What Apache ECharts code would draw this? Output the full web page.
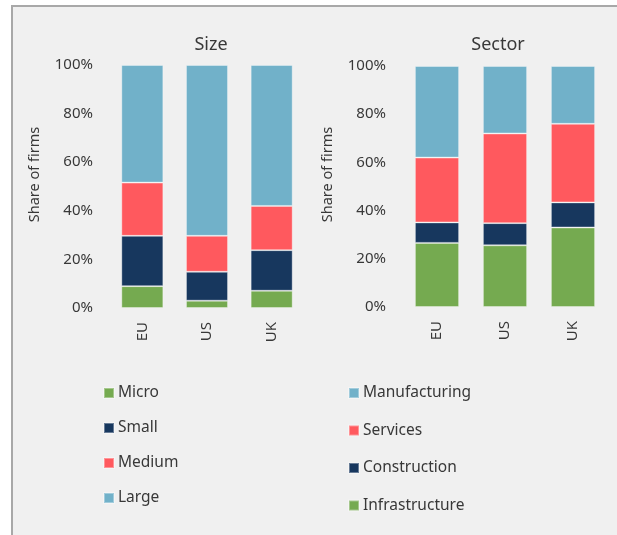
<!DOCTYPE html>
<html>
<head>
<meta charset="utf-8">
<style>
  html, body { margin: 0; padding: 0; background: #ffffff; }
  #chart { width: 617px; height: 535px; }
</style>
<script src="https://cdn.jsdelivr.net/npm/echarts@6/dist/echarts.min.js"></script>
</head>
<body>
<div id="chart"></div>
<script>
// Regions shown on both panels
const regions = ['EU', 'US', 'UK'];

// Share of firms by firm size (%)
const micro  = [9.0, 3.0, 7.1];
const small  = [20.7, 11.9, 16.7];
const medium = [21.9, 14.8, 18.2];
const large  = [48.4, 70.3, 58.0];

// Share of firms by sector (%)
const infrastructure = [26.6, 25.6, 33.0];
const construction   = [8.5, 9.2, 10.4];
const services       = [26.9, 37.2, 32.6];
const manufacturing  = [38.0, 28.0, 24.0];

const sizeLegend   = ['Micro', 'Small', 'Medium', 'Large'];
const sectorLegend = ['Manufacturing', 'Services', 'Construction', 'Infrastructure'];

const GREEN = '#75AA50', NAVY = '#17375E', RED = '#FF595E', BLUE = '#71B1C9';
const FONT = 'Noto Sans';
const TXT = '#383838';

function bar(name, data, color, idx) {
  return {
    name: name, type: 'bar', stack: 'p' + idx,
    xAxisIndex: idx, yAxisIndex: idx,
    data: data, barCategoryGap: '35%',
    itemStyle: { color: color, borderColor: 'rgba(255,255,255,0.35)', borderWidth: 1 }
  };
}

function yAxis(idx) {
  return {
    type: 'value', gridIndex: idx, min: 0, max: 100, interval: 20,
    name: 'Share of firms', nameLocation: 'middle', nameGap: 68,
    nameTextStyle: { fontFamily: FONT, fontSize: 14.5, color: TXT, padding: [0, 0, 0, 24] },
    axisLine: { show: false }, axisTick: { show: false }, splitLine: { show: false },
    axisLabel: { formatter: '{value}%', margin: 17, fontFamily: FONT, fontSize: 15, color: TXT }
  };
}

function xAxis(idx) {
  return {
    type: 'category', gridIndex: idx, data: regions,
    axisLine: { show: false }, axisTick: { show: false },
    axisLabel: { rotate: 90, margin: 14, fontFamily: FONT, fontSize: 15, color: TXT }
  };
}

function legend(names, left, top, gap) {
  return {
    data: names, orient: 'vertical', left: left, top: top,
    icon: 'rect', itemWidth: 10, itemHeight: 10, itemGap: gap,
    selectedMode: false,
    textStyle: { fontFamily: FONT, fontSize: 15.5, color: TXT, lineHeight: 18, padding: [0, 0, 0, -1] }
  };
}

const chart = echarts.init(document.getElementById('chart'), null, { renderer: 'canvas' });
chart.setOption({
  backgroundColor: '#ffffff',
  animation: false,
  graphic: [{
    type: 'rect', z: -10, silent: true,
    shape: { x: 12, y: 6, width: 620, height: 540 },
    style: { fill: '#f0f0f0', stroke: '#a8a8a8', lineWidth: 2 }
  }],
  title: [
    { text: 'Size', left: 206, top: 31, textAlign: 'center',
      textStyle: { fontFamily: FONT, fontSize: 18, fontWeight: 'normal', color: TXT } },
    { text: 'Sector', left: 493, top: 31, textAlign: 'center',
      textStyle: { fontFamily: FONT, fontSize: 18, fontWeight: 'normal', color: TXT } }
  ],
  legend: [
    legend(sizeLegend, 98, 379, 17),
    legend(sectorLegend, 343, 379, 19.5)
  ],
  grid: [
    { left: 110, top: 65, width: 194, height: 243 },
    { left: 403, top: 66, width: 204, height: 241 }
  ],
  xAxis: [xAxis(0), xAxis(1)],
  yAxis: [yAxis(0), yAxis(1)],
  series: [
    bar('Micro', micro, GREEN, 0),
    bar('Small', small, NAVY, 0),
    bar('Medium', medium, RED, 0),
    bar('Large', large, BLUE, 0),
    bar('Infrastructure', infrastructure, GREEN, 1),
    bar('Construction', construction, NAVY, 1),
    bar('Services', services, RED, 1),
    bar('Manufacturing', manufacturing, BLUE, 1)
  ]
});
</script>
</body>
</html>
